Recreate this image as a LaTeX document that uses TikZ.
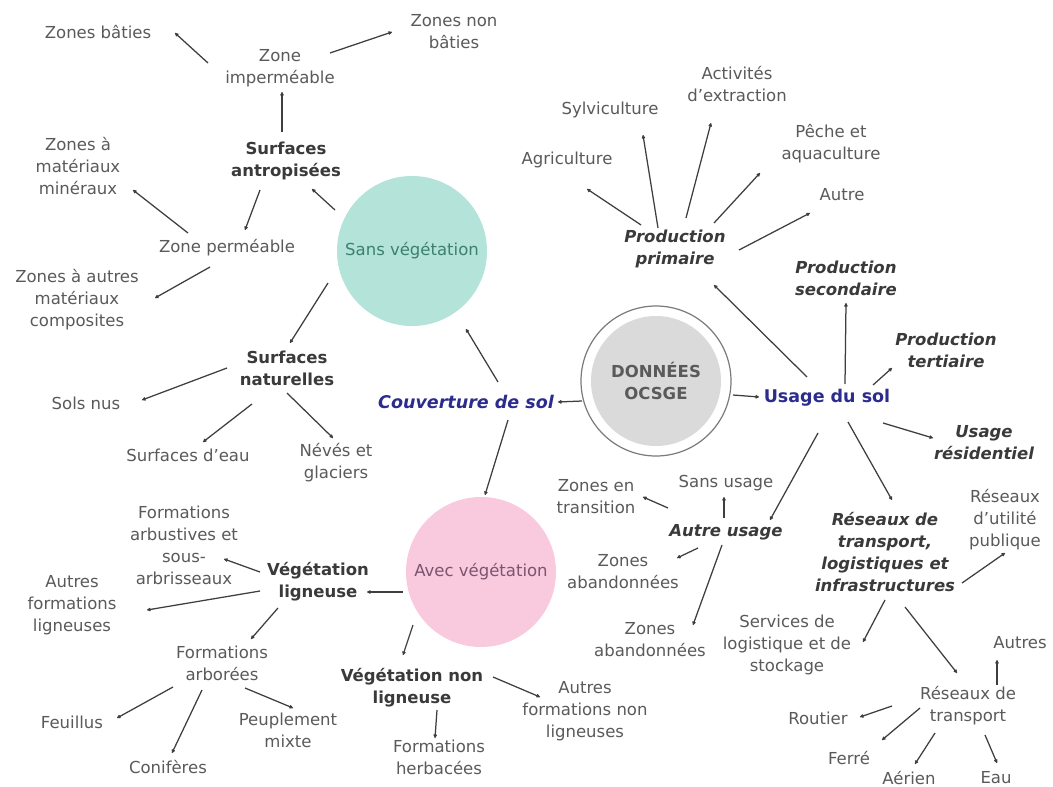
\documentclass[tikz,border=0pt]{standalone}
\usepackage{fontspec}
\setmainfont{DejaVu Sans}
\usetikzlibrary{arrows.meta}
\definecolor{txt}{HTML}{5A5A5A}
\definecolor{dark}{HTML}{3A3A3A}
\definecolor{navy}{HTML}{2B2C8C}
\definecolor{tealfill}{HTML}{B3E3D9}
\definecolor{tealtxt}{HTML}{3F7F70}
\definecolor{pinkfill}{HTML}{F9C9DD}
\definecolor{pinktxt}{HTML}{7A5570}
\definecolor{grayfill}{HTML}{DADADA}
\definecolor{ring}{HTML}{7A7A7A}
\definecolor{arrc}{HTML}{3E3E3E}
\newcommand\myarrow[4]{\draw[arr] ([shift={(#2)}]#1.center) -- ([shift={(#4)}]#3.center);}
\begin{document}
\begin{tikzpicture}[x=1pt,y=-1pt,
  lab/.style={inner sep=0pt, align=center, text=txt, font=\fontsize{16.5}{22}\selectfont},
  bl/.style={lab, text=dark, font=\fontsize{16.5}{22}\selectfont\bfseries},
  bi/.style={lab, text=dark, font=\fontsize{16.5}{22}\selectfont\bfseries\itshape},
  main/.style={lab, text=navy, font=\fontsize{17.5}{22}\selectfont\bfseries},
  bubble/.style={circle, inner sep=0pt, minimum size=150pt, align=center, font=\fontsize{16.5}{22}\selectfont},
  arr/.style={draw=arrc, line width=1.25pt, -{Latex[round,length=4.5pt,width=4.5pt]}}]
\fill[white] (0,0) rectangle (1053,787);
\useasboundingbox (0,0) rectangle (1053,787);

% ---- centre
\node[circle, draw=ring, line width=1.2pt, minimum size=150pt, inner sep=0pt] (dout) at (656,381) {};
\node[circle, fill=grayfill, minimum size=130pt, inner sep=0pt, align=center, text=txt, font=\fontsize{16.5}{22}\selectfont\bfseries] (do) at (656,381) {DONNÉES\\OCSGE};
\node[main, font=\fontsize{17.5}{22}\selectfont\bfseries\itshape] (cs) at (466,402) {Couverture de sol};
\node[main] (us) at (827,398) {Usage du sol};

% ---- couverture
\node[bubble, fill=tealfill, text=tealtxt] (sv) at (412,251) {Sans végétation};
\node[bubble, fill=pinkfill, text=pinktxt] (av) at (481,572) {Avec végétation};

\node[lab] (zb) at (98,32) {Zones bâties};
\node[lab] (zi) at (280,68) {Zone\\imperméable};
\node[lab] (znb) at (454,32) {Zones non\\bâties};
\node[bl] (sa) at (286,161) {Surfaces\\antropisées};
\node[lab] (zmm) at (78,166) {Zones à\\matériaux\\minéraux};
\node[lab] (zp) at (227,248) {Zone perméable};
\node[lab] (zac) at (77,300) {Zones à autres\\matériaux\\composites};
\node[bl] (sn) at (287,368) {Surfaces\\naturelles};
\node[lab] (snu) at (86,403) {Sols nus};
\node[lab] (se) at (188,455) {Surfaces d'eau};
\node[lab] (ng) at (336,463) {Névés et\\glaciers};

\node[lab] (fa) at (184,545) {Formations\\arbustives et\\sous-\\arbrisseaux};
\node[lab] (afl) at (72,605) {Autres\\formations\\ligneuses};
\node[bl] (vl) at (318,582) {Végétation\\ligneuse};
\node[lab] (far) at (222,663) {Formations\\arborées};
\node[lab] (feu) at (72,722) {Feuillus};
\node[lab] (con) at (168,767) {Conifères};
\node[lab] (pm) at (288,730) {Peuplement\\mixte};
\node[bl] (vnl) at (412,688) {Végétation non\\ligneuse};
\node[lab] (fh) at (439,757) {Formations\\herbacées};
\node[lab] (afn) at (585,711) {Autres\\formations non\\ligneuses};

% ---- usage
\node[lab] (agr) at (567,160) {Agriculture};
\node[lab] (syl) at (610,110) {Sylviculture};
\node[lab] (act) at (737,84) {Activités\\d'extraction};
\node[lab] (pec) at (831,144) {Pêche et\\aquaculture};
\node[lab] (aut) at (842,195) {Autre};
\node[bi] (pp) at (675,249) {Production\\primaire};
\node[bi] (ps) at (846,278) {Production\\secondaire};
\node[bi] (pt) at (946,350) {Production\\tertiaire};
\node[bi] (ur) at (984,443) {Usage\\résidentiel};
\node[lab] (rup) at (1005,520) {Réseaux\\d'utilité\\publique};
\node[bi] (rt) at (885,552) {Réseaux de\\transport,\\logistiques et\\infrastructures};
\node[bi] (au) at (726,532) {Autre usage};
\node[lab] (su) at (726,483) {Sans usage};
\node[lab] (zt) at (596,497) {Zones en\\transition};
\node[lab] (za1) at (623,572) {Zones\\abandonnées};
\node[lab] (za2) at (650,640) {Zones\\abandonnées};
\node[lab] (sls) at (787,645) {Services de\\logistique et de\\stockage};
\node[lab] (autres) at (1020,643) {Autres};
\node[lab] (rdt) at (968,706) {Réseaux de\\transport};
\node[lab] (rou) at (818,718) {Routier};
\node[lab] (fer) at (849,758) {Ferré};
\node[lab] (aer) at (909,778) {Aérien};
\node[lab] (eau) at (996,778) {Eau};

% ---- connectors
\myarrow{zi}{-72,-5}{zb}{77,1}
\myarrow{zi}{50,-15}{znb}{-62,0}
\myarrow{sa}{-4,-29}{zi}{2,24}
\myarrow{sa}{-26,29}{zp}{18,-18}
\myarrow{sv}{-77,-41}{sa}{26,28}
\myarrow{zp}{-39,-15}{zmm}{55,24}
\myarrow{zp}{-17,19}{zac}{78,-2}
\myarrow{sv}{-84,32}{sn}{3,-25}
\myarrow{sn}{-60,0}{snu}{56,-3}
\myarrow{sn}{-35,36}{se}{15,-13}
\myarrow{sn}{0,25}{ng}{-3,-25}
\myarrow{cs}{32,-20}{sv}{54,78}
\myarrow{cs}{42,18}{av}{4,-77}
\myarrow{do}{-74,20}{cs}{92,0}
\myarrow{do}{77,14}{us}{-68,-1}
\myarrow{av}{-78,20}{vl}{49,10}
\myarrow{vl}{-58,-10}{fa}{40,14}
\myarrow{vl}{-58,9}{afl}{75,5}
\myarrow{vl}{-40,26}{far}{29,-24}
\myarrow{far}{-49,24}{feu}{45,-4}
\myarrow{far}{-20,27}{con}{4,-14}
\myarrow{far}{23,25}{pm}{5,-22}
\myarrow{av}{-68,53}{vnl}{-9,-33}
\myarrow{vnl}{25,22}{fh}{-4,-19}
\myarrow{vnl}{81,-11}{afn}{-45,-14}

\myarrow{us}{-20,-21}{pp}{39,36}
\myarrow{us}{18,-14}{ps}{0,25}
\myarrow{us}{46,-13}{pt}{-54,18}
\myarrow{us}{56,25}{ur}{-51,-5}
\myarrow{us}{-9,35}{au}{44,-12}
\myarrow{us}{21,24}{rt}{7,-52}
\myarrow{pp}{-34,-24}{agr}{20,29}
\myarrow{pp}{-17,-21}{syl}{33,25}
\myarrow{pp}{11,-31}{act}{-26,39}
\myarrow{pp}{39,-26}{pec}{-71,29}
\myarrow{pp}{64,1}{aut}{-32,18}
\myarrow{au}{-2,-14}{su}{-2,14}
\myarrow{au}{-58,-24}{zt}{47,0}
\myarrow{au}{-28,16}{za1}{54,-14}
\myarrow{au}{-4,13}{za2}{43,-15}
\myarrow{rt}{77,31}{rup}{0,33}
\myarrow{rt}{0,48}{sls}{76,-3}
\myarrow{rt}{20,55}{rdt}{-11,-33}
\myarrow{rdt}{29,-21}{autres}{-23,17}
\myarrow{rdt}{-76,0}{rou}{42,-1}
\myarrow{rdt}{-48,2}{fer}{33,-18}
\myarrow{rdt}{-33,27}{aer}{6,-14}
\myarrow{rdt}{17,29}{eau}{1,-15}
\end{tikzpicture}
\end{document}
